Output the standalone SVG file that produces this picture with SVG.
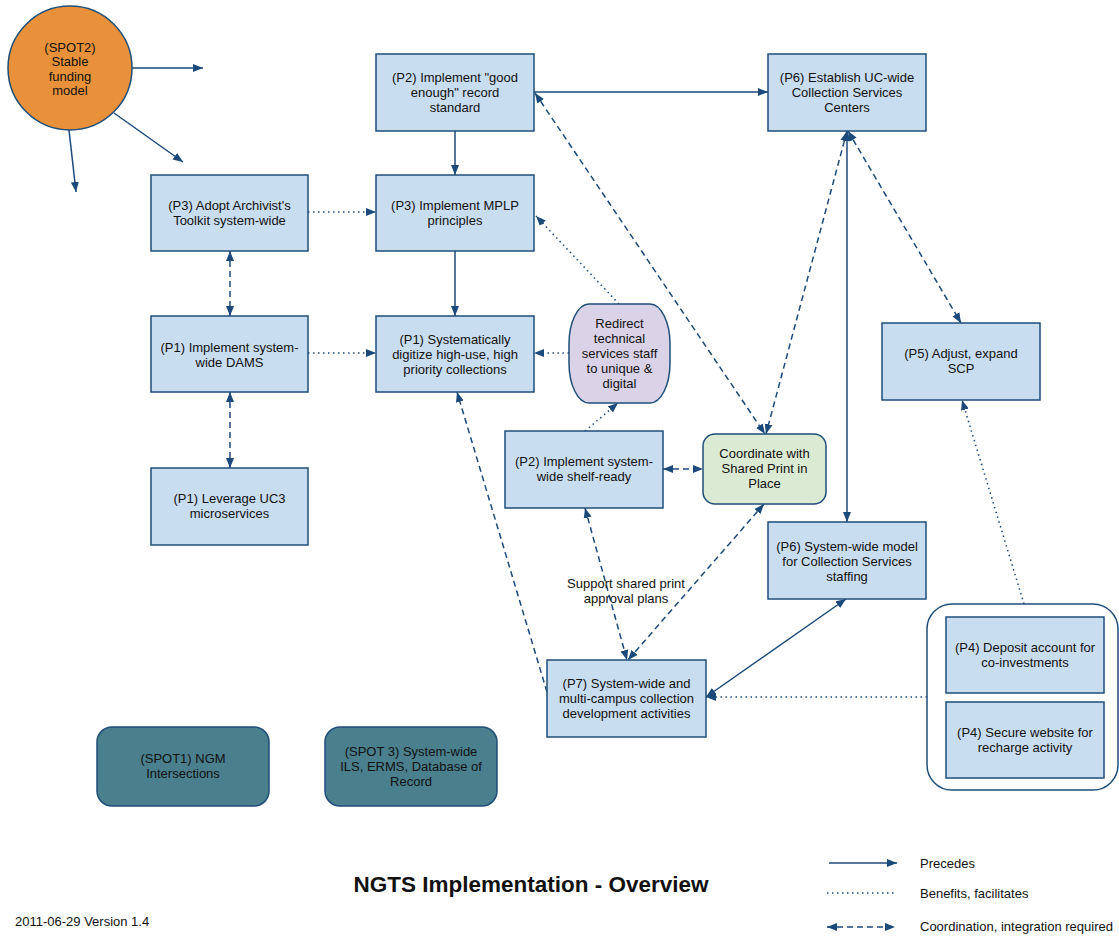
<svg xmlns="http://www.w3.org/2000/svg" width="1119" height="936" viewBox="0 0 1119 936">
<style>
text{font-family:"Liberation Sans",Arial,sans-serif;font-size:13px;fill:#111;text-anchor:middle}
.box{fill:#c9ddf1;stroke:#1f4e79;stroke-width:1.5}
.spot{fill:#4a7f8e;stroke:#1f4e79;stroke-width:1.5}
.c{fill:none;stroke:#1b4a7a;stroke-width:1.5}
.dash{stroke-dasharray:6,4}
.dot{stroke-dasharray:1.5,3.5}
.lg{text-anchor:start;font-size:13px}
</style>
<defs>
<marker id="a" markerUnits="userSpaceOnUse" markerWidth="11" markerHeight="9" refX="10" refY="4" orient="auto-start-reverse" viewBox="0 0 11 8">
<path d="M0,0 L10,4 L0,8 z" fill="#1b4a7a"/>
</marker>
</defs>
<rect width="1119" height="936" fill="#fff"/>

<g id="connectors">
<line class="c" x1="132" y1="68" x2="203" y2="68" marker-end="url(#a)"/>
<line class="c" x1="114" y1="113" x2="183" y2="162" marker-end="url(#a)"/>
<line class="c" x1="69" y1="130" x2="76" y2="192" marker-end="url(#a)"/>
<line class="c" x1="455" y1="131" x2="455" y2="175" marker-end="url(#a)"/>
<line class="c" x1="455" y1="251" x2="455" y2="316" marker-end="url(#a)"/>
<line class="c" x1="534" y1="92" x2="768" y2="92" marker-end="url(#a)"/>
<line class="c dot" x1="308" y1="212" x2="376" y2="212" marker-end="url(#a)"/>
<line class="c dash" x1="230" y1="251" x2="230" y2="316" marker-start="url(#a)" marker-end="url(#a)"/>
<line class="c dash" x1="230" y1="392" x2="230" y2="468" marker-start="url(#a)" marker-end="url(#a)"/>
<line class="c dot" x1="308" y1="353" x2="376" y2="353" marker-end="url(#a)"/>
<line class="c dot" x1="569" y1="353" x2="534" y2="353" marker-end="url(#a)"/>
<line class="c dot" x1="619" y1="304" x2="536" y2="216" marker-end="url(#a)"/>
<line class="c dot" x1="585" y1="431" x2="618" y2="403" marker-end="url(#a)"/>
<line class="c dash" x1="663" y1="469" x2="703" y2="469" marker-start="url(#a)" marker-end="url(#a)"/>
<line class="c dash" x1="535" y1="93" x2="765" y2="434" marker-start="url(#a)" marker-end="url(#a)"/>
<line class="c dash" x1="847" y1="131" x2="766" y2="434" marker-start="url(#a)" marker-end="url(#a)"/>
<line class="c" x1="847" y1="131" x2="847" y2="522" marker-start="url(#a)" marker-end="url(#a)"/>
<line class="c dash" x1="848" y1="131" x2="961" y2="323" marker-start="url(#a)" marker-end="url(#a)"/>
<line class="c dot" x1="1024" y1="604" x2="962" y2="400" marker-end="url(#a)"/>
<line class="c dot" x1="927" y1="697" x2="706" y2="697" marker-end="url(#a)"/>
<line class="c" x1="706" y1="697" x2="846" y2="599" marker-start="url(#a)" marker-end="url(#a)"/>
<line class="c dash" x1="585" y1="508" x2="627" y2="660" marker-start="url(#a)" marker-end="url(#a)"/>
<line class="c dash" x1="764" y1="504" x2="628" y2="660" marker-start="url(#a)" marker-end="url(#a)"/>
<line class="c dash" x1="547" y1="692" x2="457" y2="392" marker-end="url(#a)"/>
<text x="626" y="588">Support shared print</text>
<text x="626" y="603">approval plans</text>
</g>

<g id="spot2">
<circle cx="70" cy="68" r="62" fill="#e8913a" stroke="#1f4e79" stroke-width="1.5"/>
<text x="70" y="51.5">(SPOT2)</text>
<text x="70" y="66">Stable</text>
<text x="70" y="80.5">funding</text>
<text x="70" y="95">model</text>
</g>

<g id="p3adopt">
<rect class="box" x="151" y="175" width="157" height="76"/>
<text x="229.5" y="210">(P3) Adopt Archivist's</text>
<text x="229.5" y="225">Toolkit system-wide</text>
</g>

<g id="p2good">
<rect class="box" x="376" y="54" width="158" height="77"/>
<text x="455" y="82">(P2) Implement "good</text>
<text x="455" y="97">enough" record</text>
<text x="455" y="112">standard</text>
</g>

<g id="p3mplp">
<rect class="box" x="376" y="175" width="158" height="76"/>
<text x="455" y="210">(P3) Implement MPLP</text>
<text x="455" y="225">principles</text>
</g>

<g id="p6est">
<rect class="box" x="768" y="54" width="158" height="77"/>
<text x="847" y="82">(P6) Establish UC-wide</text>
<text x="847" y="97">Collection Services</text>
<text x="847" y="112">Centers</text>
</g>

<g id="p1dams">
<rect class="box" x="151" y="316" width="157" height="76"/>
<text x="229.5" y="352">(P1) Implement system-</text>
<text x="229.5" y="367">wide DAMS</text>
</g>

<g id="p1sys">
<rect class="box" x="376" y="316" width="158" height="76"/>
<text x="455" y="343.5">(P1) Systematically</text>
<text x="455" y="358.5">digitize high-use, high</text>
<text x="455" y="373.5">priority collections</text>
</g>

<g id="p1uc3">
<rect class="box" x="151" y="468" width="157" height="77"/>
<text x="229.5" y="503">(P1) Leverage UC3</text>
<text x="229.5" y="518">microservices</text>
</g>

<g id="redirect">
<rect x="569" y="304" width="101" height="99" rx="20" ry="40" fill="#dad3e8" stroke="#1f4e79" stroke-width="1.5"/>
<text x="619.5" y="327.5">Redirect</text>
<text x="619.5" y="342.5">technical</text>
<text x="619.5" y="357.5">services staff</text>
<text x="619.5" y="372.5">to unique &amp;</text>
<text x="619.5" y="387.5">digital</text>
</g>

<g id="p2shelf">
<rect class="box" x="505" y="431" width="158" height="77"/>
<text x="584" y="466">(P2) Implement system-</text>
<text x="584" y="481">wide shelf-ready</text>
</g>

<g id="sharedprint">
<rect x="703" y="434" width="123" height="70" rx="12" fill="#dbead3" stroke="#1f4e79" stroke-width="1.5"/>
<text x="764.5" y="458">Coordinate with</text>
<text x="764.5" y="473">Shared Print in</text>
<text x="764.5" y="488">Place</text>
</g>

<g id="p5">
<rect class="box" x="882" y="323" width="158" height="77"/>
<text x="961" y="358">(P5) Adjust, expand</text>
<text x="961" y="373">SCP</text>
</g>

<g id="p6model">
<rect class="box" x="768" y="522" width="158" height="77"/>
<text x="847" y="550.5">(P6) System-wide model</text>
<text x="847" y="565.5">for Collection Services</text>
<text x="847" y="580.5">staffing</text>
</g>

<g id="p7">
<rect class="box" x="547" y="660" width="159" height="77"/>
<text x="626.5" y="688">(P7) System-wide and</text>
<text x="626.5" y="703">multi-campus collection</text>
<text x="626.5" y="718">development activities</text>
</g>

<g id="p4group">
<rect x="927" y="604" width="191" height="186" rx="25" fill="#fff" stroke="#1f4e79" stroke-width="1.5"/>
<g id="p4deposit">
<rect class="box" x="946" y="617" width="158" height="76"/>
<text x="1025" y="652">(P4) Deposit account for</text>
<text x="1025" y="667">co-investments</text>
</g>
<g id="p4secure">
<rect class="box" x="946" y="702" width="158" height="76"/>
<text x="1025" y="737">(P4) Secure website for</text>
<text x="1025" y="752">recharge activity</text>
</g>
</g>

<g id="spot1">
<rect class="spot" x="97" y="727" width="172" height="79" rx="15"/>
<text x="183" y="763">(SPOT1) NGM</text>
<text x="183" y="778">Intersections</text>
</g>

<g id="spot3">
<rect class="spot" x="325" y="727" width="172" height="79" rx="15"/>
<text x="411" y="756">(SPOT 3) System-wide</text>
<text x="411" y="771">ILS, ERMS, Database of</text>
<text x="411" y="786">Record</text>
</g>

<g id="title">
<text x="531" y="892" style="font-size:22.5px;font-weight:bold">NGTS Implementation - Overview</text>
<text x="15" y="926" style="text-anchor:start">2011-06-29 Version 1.4</text>
</g>

<g id="legend">
<line class="c" x1="829" y1="863" x2="897" y2="863" marker-end="url(#a)"/>
<text class="lg" x="920" y="868">Precedes</text>
<line class="c dot" x1="827" y1="893" x2="897" y2="893"/>
<text class="lg" x="920" y="898">Benefits, facilitates</text>
<line class="c dash" x1="827" y1="927" x2="895" y2="927" marker-start="url(#a)" marker-end="url(#a)"/>
<text class="lg" x="920" y="931">Coordination, integration required</text>
</g>
</svg>
